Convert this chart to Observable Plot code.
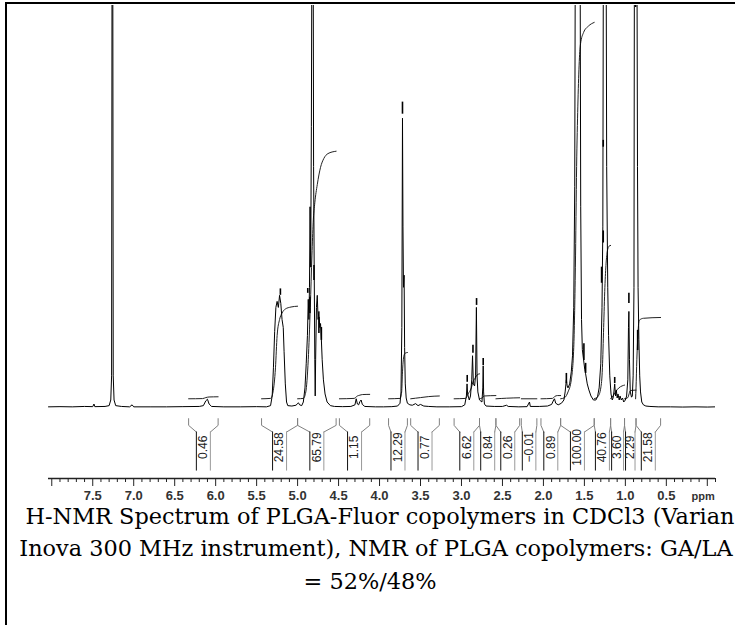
<!DOCTYPE html>
<html><head><meta charset="utf-8">
<script src="https://cdn.jsdelivr.net/npm/d3@7"></script>
<script src="https://cdn.jsdelivr.net/npm/@observablehq/plot@0.6"></script>
<style>
html,body{margin:0;padding:0;background:#fff;}
#wrap{position:relative;width:735px;height:625px;overflow:hidden;background:#fff;}
#chart{position:absolute;left:0;top:0;}
.cap{position:absolute;text-align:center;font-family:"DejaVu Serif",serif;font-size:22.4px;line-height:26px;height:26px;color:#000;white-space:nowrap;}
#frame{position:absolute;left:5px;top:2px;width:800px;height:700px;border-left:2px solid #000;border-top:2px solid #000;pointer-events:none;}
</style></head><body>
<div id="wrap"><div id="chart"></div>
<div class="cap" style="top:503px;left:0;width:760px">H-NMR Spectrum of PLGA-Fluor copolymers in CDCl3 (Varian</div>
<div class="cap" style="top:535px;left:0;width:752px">Inova 300 MHz instrument), NMR of PLGA copolymers: GA/LA</div>
<div class="cap" style="top:568px;left:0;width:740px">= 52%/48%</div>
<div id="frame"></div></div>
<script>
// ---- spectrum (ppm, intensity) ----
const spectrum = [
[8.04,0.3],[7.9,0.35],[7.75,0.3],[7.6,0.4],[7.5,0.35],[7.485,1.0],[7.475,0.35],[7.35,0.4],[7.30,0.6],[7.28,2],[7.27,8],[7.263,140],[7.257,140],[7.25,8],[7.24,2],[7.22,0.6],[7.15,0.4],[7.05,0.3],[7.02,0.8],[7.00,0.3],[6.8,0.3],[6.6,0.3],[6.4,0.35],[6.2,0.4],[6.15,0.6],[6.12,1.8],[6.10,2.2],[6.08,1.0],[6.05,0.4],[5.9,0.3],[5.7,0.3],[5.5,0.35],[5.38,0.3],
[5.33,0.6],[5.31,3],[5.295,10],[5.28,19],[5.265,25],[5.25,26.5],[5.235,25],[5.22,28],[5.205,26],[5.19,22],[5.175,20],[5.165,14],[5.15,6],[5.135,1.5],[5.12,0.6],[5.07,0.5],[5.02,0.7],[4.99,1.3],[4.975,0.8],[4.95,0.6],
[4.93,1.5],[4.91,5],[4.895,11],[4.88,18],[4.87,27],[4.862,22],[4.855,30],[4.848,50],[4.84,35],[4.832,70],[4.822,140],[4.812,140],[4.805,60],[4.797,33],[4.79,12],[4.785,3],[4.78,12],[4.77,25],[4.76,28],[4.75,22],[4.74,24],[4.73,20],[4.72,21],[4.71,17],[4.70,12],[4.685,7],[4.665,3.5],[4.64,1.5],[4.60,0.6],[4.55,0.4],[4.45,0.35],
[4.35,0.4],[4.30,0.8],[4.285,2.3],[4.27,1.0],[4.255,0.8],[4.24,1.6],[4.225,2.0],[4.21,0.9],[4.18,0.4],[4.05,0.3],[3.95,0.3],[3.85,0.35],
[3.78,0.5],[3.75,1.2],[3.738,4],[3.728,20],[3.72,72],[3.714,45],[3.708,30],[3.70,33],[3.694,15],[3.686,6],[3.675,2.5],[3.66,1.2],[3.63,0.8],[3.60,0.7],[3.56,1.1],[3.53,0.6],[3.50,0.9],[3.46,0.5],[3.40,0.4],[3.30,0.3],[3.15,0.3],
[3.00,0.35],[2.96,0.8],[2.94,3],[2.932,6],[2.925,3.5],[2.905,2],[2.89,3],[2.875,7],[2.865,13],[2.855,6],[2.84,5.5],[2.828,8],[2.818,25],[2.81,8],[2.80,4],[2.78,2],[2.75,1.5],[2.74,5],[2.735,10.5],[2.73,4],[2.72,1.0],[2.70,0.5],
[2.60,0.4],[2.50,0.4],[2.45,0.7],[2.43,0.4],[2.30,0.3],[2.20,0.35],[2.17,1.5],[2.16,0.4],[2.05,0.4],[1.95,0.5],[1.90,0.9],[1.875,2.0],[1.865,2.3],[1.85,1.2],[1.82,0.8],[1.78,1.2],[1.75,2.0],[1.735,4],[1.72,7],[1.71,5.5],[1.70,5],
[1.68,6],[1.66,9],[1.645,13],[1.63,25],[1.618,55],[1.608,140],[1.58,150],[1.555,140],[1.545,50],[1.535,22],[1.525,14.5],[1.51,12],[1.495,9.5],[1.485,8.5],[1.465,6],[1.445,4.5],[1.42,3],[1.39,2],[1.36,2],
[1.34,2.8],[1.32,5],[1.30,11],[1.285,25],[1.275,45],[1.266,140],[1.25,150],[1.238,140],[1.228,60],[1.215,30],[1.205,18],[1.19,8],[1.175,3.5],[1.16,2],
[1.15,2.5],[1.14,4],[1.13,6],[1.12,3],[1.11,4.5],[1.10,2.5],[1.09,3.5],[1.075,2],[1.065,3],[1.05,2],[1.035,2.5],[1.02,1.5],[1.00,2],[0.985,3],[0.97,7],[0.962,20],[0.957,24],[0.95,12],[0.94,4],[0.925,2.7],[0.915,3],
[0.905,8],[0.895,30],[0.888,140],[0.875,130],[0.87,115],[0.862,140],[0.852,60],[0.845,30],[0.835,17],[0.825,8],[0.815,4],[0.80,1.5],[0.78,0.8],[0.75,0.5],[0.70,0.4],[0.60,0.3],[0.45,0.3],[0.30,0.25],[0.15,0.3],[0.0,0.25],[-0.10,0.3]
];

// ---- integral regions ----
const integralFrom  = [6.33,5.44,5.00,4.49,3.89,3.62,3.09,2.78,2.58,2.27,2.03,1.79,1.38,1.18,1.01,0.87];
const integralTo    = [5.97,5.00,4.53,4.12,3.66,3.27,2.78,2.58,2.29,2.08,1.79,1.38,1.18,1.01,0.87,0.57];
const integralValue = [0.46,24.58,65.79,1.15,12.29,0.77,6.62,0.84,0.26,-0.01,0.89,100.00,40.76,3.60,2.29,21.58];

// ---- integral curves (ppm, level) ----
const integralCurves = [
 [[6.33,2.3],[6.16,2.35],[6.12,2.6],[6.08,2.75],[5.97,2.8]],
 [[5.44,2.3],[5.33,2.4],[5.30,4],[5.27,10],[5.25,18],[5.22,22],[5.19,23.6],[5.15,24.6],[5.08,25.1],[5.00,25.3]],
 [[5.00,2.3],[4.93,2.4],[4.90,4],[4.87,12],[4.845,25],[4.825,38],[4.81,46],[4.79,51],[4.76,55.5],[4.72,59.8],[4.68,62],[4.63,63.2],[4.53,63.8]],
 [[4.49,2.3],[4.31,2.4],[4.27,3.0],[4.24,3.2],[4.21,3.35],[4.12,3.4]],
 [[3.89,2.3],[3.75,2.4],[3.73,4],[3.72,9],[3.71,12],[3.70,13.2],[3.68,13.7],[3.66,13.8]],
 [[3.62,2.3],[3.5,2.6],[3.4,2.85],[3.27,3.0]],
 [[3.09,2.3],[2.95,2.4],[2.92,3.5],[2.88,5],[2.86,6.5],[2.83,7.5],[2.81,8.2],[2.78,8.5]],
 [[2.78,2.3],[2.75,2.5],[2.72,3.0],[2.58,3.1]],
 [[2.58,2.3],[2.45,2.45],[2.29,2.55]],
 [[2.27,2.3],[2.08,2.3]],
 [[2.03,2.3],[1.89,2.4],[1.86,2.9],[1.83,3.1],[1.79,3.1]],
 [[1.79,2.3],[1.74,2.6],[1.70,4],[1.66,7],[1.63,15],[1.61,35],[1.595,60],[1.58,75],[1.565,85],[1.547,90.5],[1.51,93.3],[1.45,94.9],[1.38,95.8]],
 [[1.38,2.3],[1.33,3],[1.30,5],[1.28,10],[1.265,20],[1.25,30],[1.235,36],[1.22,39],[1.20,40.2],[1.18,40.4]],
 [[1.18,2.3],[1.15,3],[1.12,4],[1.08,5],[1.04,5.5],[1.01,5.7]],
 [[1.01,2.3],[0.97,2.6],[0.955,3.5],[0.945,4.2],[0.92,4.4],[0.87,4.45]],
 [[0.875,2.3],[0.87,5],[0.86,12],[0.85,17],[0.84,20.5],[0.83,21.8],[0.78,22.3],[0.57,22.5]]
];

// ---- peak-pick markers (ppm, low, high) ----
const markerPpm  = [5.21,4.876,4.85,4.80,4.74,4.71,3.72,2.93,2.86,2.816,2.735,1.72,1.506,1.485,1.29,1.27,1.27,1.13,0.957,0.875,0.85];
const markerLow  = [28.0,28.5,23.5,31.7,18.5,16.8,73,6.4,13.6,25.5,10.6,6.1,11.8,8.6,31,41,64.8,6.1,26,99.5,14.3];
const markerHigh = [29.6,29.7,27.5,35.4,22.5,20.0,76,8.1,15.6,27.2,12.3,8.6,16.0,11.1,35,44,66.5,7.6,28.5,103,19.3];

// ---- axis ticks ----
const labeledTicks = [7.5,7.0,6.5,6.0,5.5,5.0,4.5,4.0,3.5,3.0,2.5,2.0,1.5,1.0,0.5];
const unlabeledMajor = [8.0,0.0];
const minorTicks = d3.range(80,-2,-1).map(d => d/10).filter(d => Math.abs(d*2 - Math.round(d*2)) > 1e-6);
const axisUnit = "ppm";

// ---- layout helpers ----
const W = 735, H = 508, mL = 48, mR = 20, mT = 5, mB = 30;
const xDomain = [8.04, -0.10];
const yDomain = [-17.5, 100];
const pxPerPpm = (W - mL - mR) / (xDomain[0] - xDomain[1]);
const unitsPerPx = (yDomain[1] - yDomain[0]) / (H - mT - mB);
const yTop = -2.63, yBend = -4.30, yInner = -5.96, yBottom = -15.65, yLabel = -9.76;

const spec = spectrum.map(([p, v]) => ({p, v}));
const curves = integralCurves.flatMap((pts, i) => pts.map(([p, v]) => ({p, v, i})));
const markers = markerPpm.map((p, i) => ({p, lo: markerLow[i], hi: markerHigh[i]}));
const brackets = integralFrom.map((f, i) => {
  const t = integralTo[i];
  const c = (f + t) / 2;
  const half = Math.min(7 / pxPerPpm, (f - t) / 2 - 1 / pxPerPpm);
  return {f, t, c, l: c + half, r: c - half, val: integralValue[i], i};
});
const bracketLines = brackets.flatMap(b => [
  {p: b.f, v: yTop, k: b.i + "a"}, {p: b.f, v: yBend, k: b.i + "a"}, {p: b.l, v: yInner, k: b.i + "a"},
  {p: b.t, v: yTop, k: b.i + "b"}, {p: b.t, v: yBend, k: b.i + "b"}, {p: b.r, v: yInner, k: b.i + "b"}
]);
const fmt = d3.format(".2f");
const axisY = yDomain[0];

const chart = Plot.plot({
  width: W, height: H,
  marginLeft: mL, marginRight: mR, marginTop: mT, marginBottom: mB,
  x: {domain: xDomain, label: null},
  y: {domain: yDomain, axis: null},
  style: {background: "#fff", fontFamily: "Liberation Sans, Arial, sans-serif", overflow: "visible"},
  marks: [
    Plot.line(curves, {x: "p", y: "v", z: "i", stroke: "#222", strokeWidth: 1, curve: "monotone-x"}),
    Plot.line(spec, {x: "p", y: "v", stroke: "#000", strokeWidth: 1, clip: true}),
    Plot.ruleX(markers, {x: "p", y1: "lo", y2: "hi", stroke: "#000", strokeWidth: 1.6, clip: true}),
    Plot.line(bracketLines, {x: "p", y: "v", z: "k", stroke: "#808080", strokeWidth: 1}),
    Plot.ruleX(brackets, {x: "l", y1: yInner, y2: yBottom, stroke: "#111", strokeWidth: 1}),
    Plot.ruleX(brackets, {x: "r", y1: yInner, y2: yBottom, stroke: "#999", strokeWidth: 1}),
    Plot.text(brackets, {x: "c", y: yLabel, text: d => fmt(d.val), rotate: -90, fontSize: 12, fill: "#222", textAnchor: "middle"}),
    Plot.ruleY([axisY], {x1: xDomain[0], x2: xDomain[1], stroke: "#222", strokeWidth: 1.5}),
    Plot.ruleX(minorTicks, {x: d => d, y1: axisY, y2: axisY - 4 * unitsPerPx, stroke: "#222", strokeWidth: 1}),
    Plot.ruleX(unlabeledMajor, {x: d => d, y1: axisY, y2: axisY - 8 * unitsPerPx, stroke: "#222", strokeWidth: 1}),
    Plot.axisX({ticks: labeledTicks, tickSize: 8, tickPadding: 4, tickFormat: d3.format(".1f"), fontSize: 13, fontWeight: "bold", fill: "#333", stroke: "#222", label: null}),
    Plot.text([axisUnit], {x: 0.05, y: axisY, dy: 18, text: d => d, fontSize: 11, fontWeight: "bold", fill: "#333"})
  ]
});
document.getElementById("chart").appendChild(chart);
</script>
</body></html>
